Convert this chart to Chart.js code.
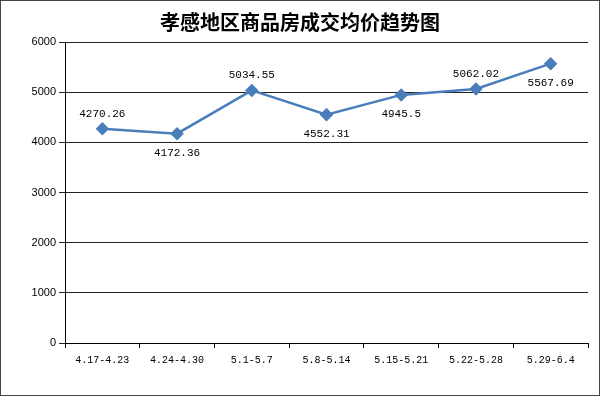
<!DOCTYPE html>
<html>
<head>
<meta charset="utf-8">
<script src="https://cdn.jsdelivr.net/npm/chart.js@4.4.0/dist/chart.umd.min.js"></script>
<style>
  html, body { margin: 0; padding: 0; background: #fff; }
</style>
</head>
<body>
<canvas id="priceChart" width="600" height="396"></canvas>
<script>
// data
const weeks = ['4.17-4.23', '4.24-4.30', '5.1-5.7', '5.8-5.14', '5.15-5.21', '5.22-5.28', '5.29-6.4'];
const avgPrice = [4270.26, 4172.36, 5034.55, 4552.31, 4945.5, 5062.02, 5567.69];
const labelSide = ['up', 'down', 'up', 'down', 'down', 'up', 'down'];
const yTicks = [0, 1000, 2000, 3000, 4000, 5000, 6000];

// title, frame and value labels
const decor = {
    id: 'decor',
    afterDraw(chart) {
        const c = chart.ctx;
        c.save();
        c.strokeStyle = '#444';
        c.lineWidth = 1;
        c.strokeRect(0.5, 0.5, chart.width - 1, chart.height - 1);

        c.fillStyle = '#000';
        c.font = 'bold 20px "Noto Sans CJK SC"';
        c.textAlign = 'center';
        c.textBaseline = 'middle';
        c.fillText('孝感地区商品房成交均价趋势图', 300, 22);

        c.font = '11px "Liberation Mono"';
        const meta = chart.getDatasetMeta(0);
        meta.data.forEach((pt, i) => {
            const dy = labelSide[i] === 'up' ? -15 : 19;
            c.fillText(String(avgPrice[i]), pt.x, pt.y + dy);
        });
        c.restore();
    }
};

const ctx = document.getElementById('priceChart');
new Chart(ctx, {
    type: 'line',
    data: {
        labels: weeks,
        datasets: [{
            data: avgPrice,
            borderColor: '#4a7ebb',
            backgroundColor: '#4a7ebb',
            borderWidth: 2.5,
            pointStyle: 'rectRot',
            pointRadius: 5,
            pointHoverRadius: 5,
            tension: 0
        }]
    },
    options: {
        responsive: false,
        animation: false,
        devicePixelRatio: 1,
        layout: { padding: { left: 0, right: 12, top: 42, bottom: 0 } },
        plugins: { legend: { display: false }, tooltip: { enabled: false } },
        scales: {
            x: {
                offset: true,
                grid: { display: true, offset: true, drawOnChartArea: false, color: '#000', tickLength: 5 },
                border: { color: '#000', width: 1 },
                ticks: {
                    color: '#000',
                    font: { family: 'Liberation Mono', size: 10 },
                    maxRotation: 0,
                    autoSkip: false,
                    padding: 6
                },
                afterFit: s => { s.height = 53; }
            },
            y: {
                min: 0,
                max: 6000,
                afterBuildTicks: s => { s.ticks = yTicks.map(v => ({ value: v })); },
                grid: { color: '#222', tickLength: 6 },
                border: { color: '#000', width: 1 },
                ticks: { color: '#000', font: { family: 'Liberation Sans', size: 11 }, padding: 3, callback: v => String(v) },
                afterFit: s => { s.width = 65; }
            }
        }
    },
    plugins: [decor]
});
</script>
</body>
</html>
